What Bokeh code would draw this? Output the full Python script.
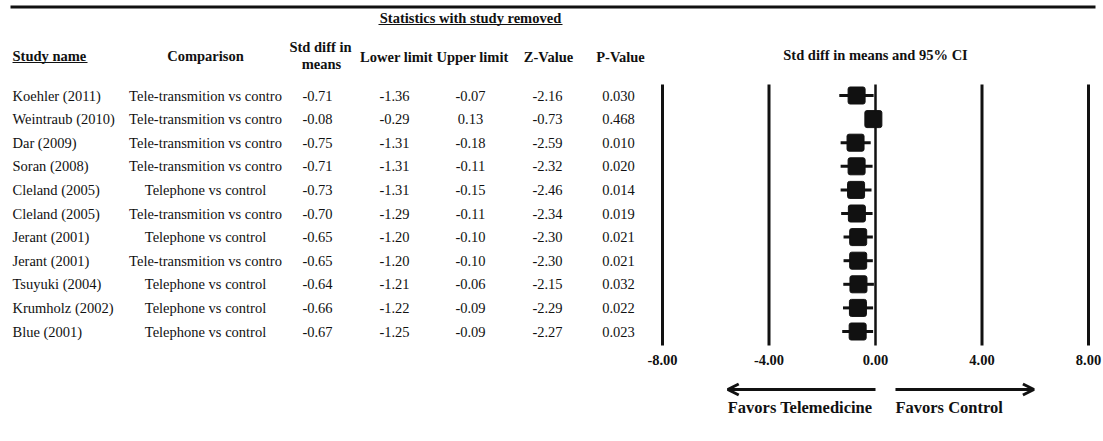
from bokeh.plotting import figure
from bokeh.models import Range1d, ColumnDataSource, Arrow, OpenHead
from bokeh.core.properties import value
from bokeh.embed import file_html
from bokeh.resources import INLINE

# ---------------- data ----------------
studies = ["Koehler (2011)", "Weintraub (2010)", "Dar  (2009)", "Soran (2008)",
           "Cleland  (2005)", "Cleland  (2005)", "Jerant (2001)", "Jerant (2001)",
           "Tsuyuki (2004)", "Krumholz (2002)", "Blue  (2001)"]
TT = "Tele-transmition vs contro"
TP = "Telephone vs control"
comparisons = [TT, TT, TT, TT, TP, TT, TP, TT, TP, TP, TP]
std_diff = [-0.71, -0.08, -0.75, -0.71, -0.73, -0.70, -0.65, -0.65, -0.64, -0.66, -0.67]
lower = [-1.36, -0.29, -1.31, -1.31, -1.31, -1.29, -1.20, -1.20, -1.21, -1.22, -1.25]
upper = [-0.07, 0.13, -0.18, -0.11, -0.15, -0.11, -0.10, -0.10, -0.06, -0.09, -0.09]
z_value = [-2.16, -0.73, -2.59, -2.32, -2.46, -2.34, -2.30, -2.30, -2.15, -2.29, -2.27]
p_value = ["0.030", "0.468", "0.010", "0.020", "0.014", "0.019", "0.021", "0.021",
           "0.032", "0.022", "0.023"]
axis_ticks = [-8, -4, 0, 4, 8]
tick_labels = ["-8.00", "-4.00", "0.00", "4.00", "8.00"]
favors_left = "Favors Telemedicine"
favors_right = "Favors Control"

# ---------------- layout (reference pixel space) ----------------
W, H = 1103, 441
X0, X1 = 0, W
Y0, Y1 = 0, H
ES_PX_LEFT, ES_PX_RIGHT = 662, 1088   # where -8 and 8 sit
ROW0_PX, ROW_STEP = 95.0, 23.6

FONT = value("Liberation Serif")
INK = "#111111"

p = figure(width=W, height=H, output_backend="svg",
           toolbar_location=None, x_axis_location=None, y_axis_location=None,
           x_range=Range1d(X0, X1), y_range=Range1d(Y1, Y0),
           min_border=0, outline_line_color=None, tools="")
p.grid.visible = False
p.background_fill_color = "white"
p.border_fill_color = "white"

k = 16.0 / (ES_PX_RIGHT - ES_PX_LEFT)
p.extra_x_ranges = {"es": Range1d(-8 - (ES_PX_LEFT - X0) * k, 8 + (X1 - ES_PX_RIGHT) * k)}
p.extra_y_ranges = {"row": Range1d((Y1 - ROW0_PX) / ROW_STEP, (Y0 - ROW0_PX) / ROW_STEP)}

n = len(studies)
rows = list(range(n))
src = ColumnDataSource(dict(
    row=rows, study=studies, comp=comparisons,
    sd=std_diff, lo=lower, hi=upper,
    sd_t=["%.2f" % v for v in std_diff], lo_t=["%.2f" % v for v in lower],
    hi_t=["%.2f" % v for v in upper], z_t=["%.2f" % v for v in z_value],
    p_t=p_value,
))

# top rule
p.segment(x0=[10], x1=[1095], y0=[6.5], y1=[6.5], line_color=INK, line_width=3)

# headers
def htext(x, y, t, align="center", size="14.5px"):
    p.text(x=[x], y=[y], text=[t], text_font=FONT, text_font_size=size,
           text_font_style="bold", text_align=align, text_baseline="middle",
           text_color=INK)

htext(470, 17, "Statistics with study removed")
p.segment(x0=[378], x1=[562], y0=[24], y1=[24], line_color=INK, line_width=1)
htext(12, 55, "Study name", align="left")
p.segment(x0=[12], x1=[87], y0=[62], y1=[62], line_color=INK, line_width=1)
htext(205, 55, "Comparison")
htext(320, 46, "Std diff in")
htext(321, 63, "means")
htext(396, 56, "Lower limit")
htext(472, 56, "Upper limit")
htext(548, 56, "Z-Value")
htext(620, 56, "P-Value")
htext(875, 54, "Std diff in means and 95% CI")

# table body
def col(x, field, align="center"):
    p.text(x=x, y="row", text=field, source=src, y_range_name="row",
           text_font=FONT, text_font_size="14.5px", text_align=align,
           text_baseline="middle", text_color=INK)

col(12, "study", "left")
col(205, "comp")
col(317, "sd_t")
col(394, "lo_t")
col(470, "hi_t")
col(547, "z_t")
col(618, "p_t")

# forest: reference lines
p.segment(x0=axis_ticks, x1=axis_ticks, y0=[84] * len(axis_ticks),
          y1=[345] * len(axis_ticks), x_range_name="es",
          line_color=INK, line_width=[3 if t != 0 else 2.5 for t in axis_ticks])

# CI lines and boxes
p.segment(x0="lo", x1="hi", y0="row", y1="row", source=src,
          x_range_name="es", y_range_name="row", line_color=INK, line_width=3)
p.rect(x="sd", y="row", width=17, height=17, width_units="screen",
       height_units="screen", source=src, x_range_name="es", y_range_name="row",
       fill_color=INK, line_color=INK, border_radius=2)

# tick labels
p.text(x=axis_ticks, y=[359] * len(axis_ticks), text=tick_labels, x_range_name="es",
       text_font=FONT, text_font_size="14.5px", text_font_style="bold",
       text_align="center", text_baseline="middle", text_color=INK)

# favour arrows
p.add_layout(Arrow(x_start=0, x_end=-5.55, y_start=389, y_end=389,
                   x_range_name="es", line_color=INK, line_width=3,
                   end=OpenHead(size=11, line_width=3, line_color=INK)))
p.add_layout(Arrow(x_start=0.75, x_end=5.95, y_start=389, y_end=389,
                   x_range_name="es", line_color=INK, line_width=3,
                   end=OpenHead(size=11, line_width=3, line_color=INK)))
p.text(x=[-5.55], y=[407], text=[favors_left], x_range_name="es",
       text_font=FONT, text_font_size="16.5px", text_font_style="bold",
       text_align="left", text_baseline="middle", text_color=INK)
p.text(x=[0.75], y=[407], text=[favors_right], x_range_name="es",
       text_font=FONT, text_font_size="16.5px", text_font_style="bold",
       text_align="left", text_baseline="middle", text_color=INK)

open("out.html", "w").write(file_html(p, INLINE))
